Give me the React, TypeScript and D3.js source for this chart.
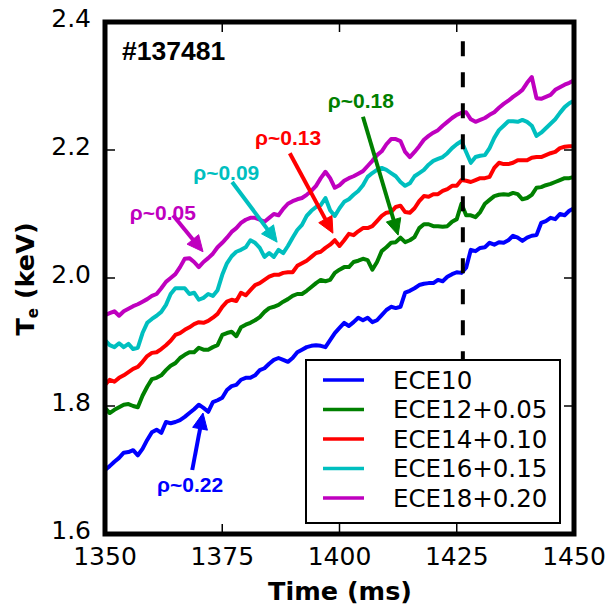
import React from 'react';
import * as d3 from 'd3';

// sampling grid (ms), 1 ms steps
const times: number[] = d3.range(1350, 1451, 1);

const ece10 = [1.700,1.706,1.713,1.719,1.727,1.728,1.731,1.723,1.733,1.747,
1.759,1.763,1.758,1.775,1.773,1.775,1.778,1.783,1.789,1.795,
1.802,1.797,1.791,1.806,1.809,1.813,1.825,1.831,1.833,1.841,
1.844,1.844,1.848,1.856,1.859,1.866,1.872,1.875,1.872,1.869,
1.875,1.884,1.888,1.892,1.894,1.895,1.894,1.892,1.903,1.914,
1.922,1.930,1.925,1.931,1.938,1.934,1.938,1.931,1.934,1.942,
1.950,1.955,1.953,1.955,1.977,1.980,1.984,1.989,1.991,1.992,
1.992,1.997,1.995,2.002,2.006,2.009,2.008,2.016,2.044,2.042,
2.047,2.048,2.055,2.052,2.056,2.055,2.059,2.066,2.063,2.058,
2.063,2.066,2.067,2.086,2.089,2.094,2.092,2.100,2.098,2.105,
2.109];
const ece12 = [1.797,1.789,1.794,1.798,1.802,1.803,1.800,1.798,1.816,1.830,
1.842,1.844,1.848,1.856,1.863,1.867,1.875,1.880,1.884,1.884,
1.891,1.888,1.888,1.892,1.895,1.911,1.914,1.916,1.909,1.923,
1.927,1.930,1.934,1.939,1.947,1.953,1.955,1.958,1.963,1.967,
1.972,1.975,1.975,1.980,1.986,1.992,1.997,1.995,1.997,2.008,
2.013,2.017,2.017,2.025,2.027,2.030,2.028,2.013,2.025,2.042,
2.048,2.055,2.056,2.063,2.056,2.059,2.064,2.078,2.084,2.084,
2.081,2.081,2.080,2.081,2.088,2.092,2.116,2.098,2.098,2.095,
2.103,2.116,2.122,2.128,2.130,2.131,2.130,2.133,2.131,2.123,
2.125,2.130,2.141,2.142,2.145,2.147,2.150,2.153,2.156,2.156,
2.158];
const ece14 = [1.833,1.841,1.838,1.844,1.848,1.853,1.858,1.861,1.869,1.878,
1.883,1.884,1.889,1.895,1.902,1.911,1.914,1.919,1.923,1.928,
1.931,1.930,1.933,1.938,1.944,1.955,1.963,1.966,1.964,1.977,
1.973,1.981,1.989,1.992,1.997,2.002,2.005,2.005,2.008,2.009,
2.009,2.019,2.023,2.027,2.033,2.039,2.041,2.047,2.052,2.059,
2.050,2.059,2.069,2.067,2.073,2.078,2.078,2.081,2.089,2.097,
2.102,2.103,2.111,2.113,2.103,2.102,2.109,2.120,2.128,2.127,
2.131,2.131,2.136,2.139,2.144,2.144,2.153,2.152,2.150,2.153,
2.156,2.156,2.158,2.172,2.180,2.178,2.178,2.180,2.184,2.184,
2.184,2.188,2.189,2.189,2.192,2.195,2.197,2.203,2.205,2.206,
2.206];
const ece16 = [1.903,1.895,1.892,1.898,1.892,1.897,1.889,1.891,1.914,1.930,
1.936,1.941,1.947,1.958,1.975,1.984,1.984,1.984,1.975,1.977,
1.966,1.969,1.975,1.972,1.981,2.005,2.023,2.034,2.041,2.044,
2.048,2.059,2.055,2.047,2.033,2.039,2.033,2.044,2.039,2.050,
2.063,2.075,2.083,2.097,2.105,2.111,2.114,2.125,2.106,2.097,
2.109,2.119,2.123,2.130,2.136,2.145,2.158,2.164,2.169,2.172,
2.169,2.164,2.159,2.150,2.144,2.148,2.159,2.164,2.169,2.177,
2.183,2.186,2.189,2.195,2.203,2.209,2.214,2.197,2.180,2.189,
2.191,2.192,2.203,2.219,2.231,2.238,2.245,2.245,2.244,2.247,
2.244,2.238,2.222,2.227,2.234,2.241,2.248,2.258,2.267,2.273,
2.277];
const ece18 = [1.942,1.945,1.948,1.941,1.948,1.952,1.956,1.959,1.963,1.967,
1.972,1.975,1.984,1.994,2.000,2.006,2.017,2.030,2.031,2.025,
2.017,2.025,2.031,2.038,2.048,2.055,2.063,2.072,2.078,2.086,
2.091,2.094,2.094,2.091,2.088,2.094,2.100,2.098,2.108,2.116,
2.120,2.123,2.125,2.130,2.136,2.144,2.156,2.166,2.156,2.141,
2.145,2.152,2.156,2.159,2.163,2.167,2.175,2.183,2.192,2.198,
2.209,2.217,2.217,2.214,2.197,2.189,2.197,2.206,2.216,2.222,
2.227,2.231,2.238,2.244,2.250,2.255,2.258,2.259,2.248,2.244,
2.247,2.250,2.255,2.259,2.266,2.272,2.277,2.283,2.288,2.294,
2.305,2.314,2.281,2.280,2.283,2.286,2.294,2.298,2.302,2.305,
2.309];

const seriesNames = ['ECE10', 'ECE12+0.05', 'ECE14+0.10', 'ECE16+0.15', 'ECE18+0.20'];
const seriesValues = [ece10, ece12, ece14, ece16, ece18];
const seriesColors = ['#0000ff', '#008000', '#ff0000', '#00bfbf', '#bf00bf'];

const xTicks = [1350, 1375, 1400, 1425, 1450];
const yTicks = [1.6, 1.8, 2.0, 2.2, 2.4];
const xTickLabels = ['1350', '1375', '1400', '1425', '1450'];
const yTickLabels = ['1.6', '1.8', '2.0', '2.2', '2.4'];

const shotLabel = '#137481';
const markerTime = 1426.3;
const markerTop = 2.37;

// annotation: label, series index, text anchor point, arrow start, arrow tip (data coords)
const annLabels = ['ρ~0.05', 'ρ~0.09', 'ρ~0.13', 'ρ~0.18', 'ρ~0.22'];
const annSeries = [4, 3, 2, 1, 0];
const annText = [[1355.3, 2.091], [1368.8, 2.153], [1382.0, 2.208], [1397.5, 2.266], [1361.1, 1.666]];
const annFrom = [[1364.5, 2.098], [1377.1, 2.150], [1389.4, 2.195], [1405.0, 2.252], [1368.6, 1.700]];
const annTo = [[1370.9, 2.041], [1386.7, 2.056], [1398.6, 2.070], [1412.5, 2.067], [1370.9, 1.789]];

const W = 608, H = 610;
const L = 105, R = 574, T = 22, B = 534;

export default function App() {
  const x = d3.scaleLinear().domain([1350, 1450]).range([L, R]);
  const y = d3.scaleLinear().domain([1.6, 2.4]).range([B, T]);
  const line = d3.line<number>().x((_, i) => x(times[i])).y((d) => y(d));

  const arrows = annLabels.map((lab, i) => {
    const x1 = x(annFrom[i][0]), y1 = y(annFrom[i][1]);
    const x2 = x(annTo[i][0]), y2 = y(annTo[i][1]);
    const dx = x2 - x1, dy = y2 - y1;
    const len = Math.hypot(dx, dy);
    const ux = dx / len, uy = dy / len;
    const hl = 16, hw = 7.5;
    const bx = x2 - ux * hl, by = y2 - uy * hl;
    const head = `${x2},${y2} ${bx - uy * hw},${by + ux * hw} ${bx + uy * hw},${by - ux * hw}`;
    const c = seriesColors[annSeries[i]];
    return (
      <g key={lab}>
        <text x={x(annText[i][0])} y={y(annText[i][1])} fill={c} fontFamily="'Liberation Sans', Arial, sans-serif" fontWeight="bold" fontSize={21}>{lab}</text>
        <line x1={x1} y1={y1} x2={bx + ux * 2} y2={by + uy * 2} stroke={c} strokeWidth={4} />
        <polygon points={head} fill={c} stroke={c} strokeWidth={1} strokeLinejoin="miter" />
      </g>
    );
  });

  return (
    <svg width={W} height={H} style={{ position: 'absolute', left: 0, top: 0, background: '#fff' }}>
      <rect x={0} y={0} width={W} height={H} fill="#fff" />
      <defs>
        <clipPath id="plotclip">
          <rect x={L} y={T} width={R - L} height={B - T} />
        </clipPath>
      </defs>
      <g clipPath="url(#plotclip)">
        {seriesValues.map((vals, i) => (
          <path key={seriesNames[i]} d={line(vals) || ''} fill="none" stroke={seriesColors[i]} strokeWidth={4} strokeLinejoin="round" strokeLinecap="round" />
        ))}
      </g>
      <line x1={x(markerTime)} x2={x(markerTime)} y1={y(markerTop)} y2={B} stroke="#000" strokeWidth={4} strokeDasharray="15,16" />
      {arrows}
      <text x={122} y={60} fontFamily="'Liberation Sans', Arial, sans-serif" fontWeight="bold" fontSize={26.5} fill="#000">{shotLabel}</text>
      {/* legend */}
      <g>
        <rect x={306} y={360} width={254} height={163} fill="#fff" stroke="#000" strokeWidth={2} />
        {seriesNames.map((n, i) => {
          const yy = 380 + i * 29.5;
          return (
            <g key={n}>
              <line x1={323} x2={364} y1={yy} y2={yy} stroke={seriesColors[i]} strokeWidth={3.5} />
              <text x={393} y={yy + 8.5} fontFamily="'DejaVu Sans', sans-serif" fontSize={24.5} fill="#000">{n}</text>
            </g>
          );
        })}
      </g>
      {/* ticks */}
      {xTicks.map((t) => (
        <g key={'xt' + t}>
          <line x1={x(t)} x2={x(t)} y1={B} y2={B - 10} stroke="#000" strokeWidth={1.5} />
          <line x1={x(t)} x2={x(t)} y1={T} y2={T + 10} stroke="#000" strokeWidth={1.5} />
        </g>
      ))}
      {yTicks.map((t) => (
        <g key={'yt' + t}>
          <line x1={L} x2={L + 10} y1={y(t)} y2={y(t)} stroke="#000" strokeWidth={1.5} />
          <line x1={R} x2={R - 10} y1={y(t)} y2={y(t)} stroke="#000" strokeWidth={1.5} />
        </g>
      ))}
      <rect x={L} y={T} width={R - L} height={B - T} fill="none" stroke="#000" strokeWidth={5} />
      {xTicks.map((t, i) => (
        <text key={'xl' + t} x={x(t)} y={565} textAnchor="middle" fontFamily="'DejaVu Sans', sans-serif" fontSize={25} fill="#000">{xTickLabels[i]}</text>
      ))}
      {yTicks.map((t, i) => (
        <text key={'yl' + t} x={91} y={y(t) + 5} textAnchor="end" fontFamily="'DejaVu Sans', sans-serif" fontSize={25} fill="#000">{yTickLabels[i]}</text>
      ))}
      <text x={340} y={600} textAnchor="middle" fontFamily="'DejaVu Sans', sans-serif" fontWeight="bold" fontSize={25.5} fill="#000">Time (ms)</text>
      <text transform={`translate(34,${279}) rotate(-90)`} textAnchor="middle" fontFamily="'DejaVu Sans', sans-serif" fontWeight="bold" fontSize={25.5} fill="#000">
        T<tspan dy={4} fontSize={15}>e</tspan><tspan dy={-4}> (keV)</tspan>
      </text>
    </svg>
  );
}
